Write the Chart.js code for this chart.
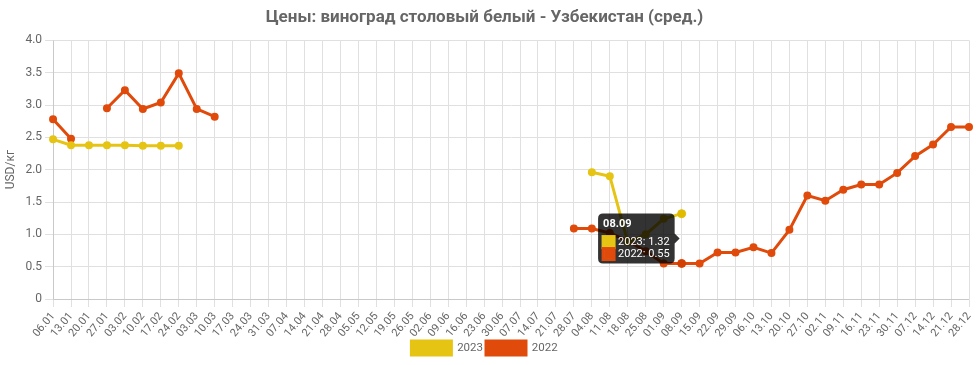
<!DOCTYPE html>
<html>
<head>
<meta charset="utf-8">
<script src="https://cdn.jsdelivr.net/npm/chart.js@4"></script>
<style>
  html, body { margin: 0; padding: 0; background: #fff; }
  #wrap { width: 979px; height: 365px; }
</style>
</head>
<body>
<div id="wrap"><canvas id="myChart"></canvas></div>
<script>
const weeks = ["06.01","13.01","20.01","27.01","03.02","10.02","17.02","24.02","03.03","10.03",
  "17.03","24.03","31.03","07.04","14.04","21.04","28.04","05.05","12.05","19.05",
  "26.05","02.06","09.06","16.06","23.06","30.06","07.07","14.07","21.07","28.07",
  "04.08","11.08","18.08","25.08","01.09","08.09","15.09","22.09","29.09","06.10",
  "13.10","20.10","27.10","02.11","09.11","16.11","23.11","30.11","07.12","14.12",
  "21.12","28.12"];

const prices2023 = [2.47,2.38,2.38,2.38,2.38,2.37,2.37,2.37,null,null,
  null,null,null,null,null,null,null,null,null,null,
  null,null,null,null,null,null,null,null,null,null,
  1.96,1.90,0.88,1.00,1.24,1.32,null,null,null,null,
  null,null,null,null,null,null,null,null,null,null,
  null,null];

const prices2022 = [2.78,2.48,null,2.95,3.23,2.94,3.04,3.49,2.94,2.82,
  null,null,null,null,null,null,null,null,null,null,
  null,null,null,null,null,null,null,null,null,1.09,
  1.09,1.02,0.90,0.74,0.55,0.55,0.55,0.72,0.72,0.80,
  0.71,1.07,1.60,1.52,1.69,1.77,1.77,1.95,2.21,2.39,
  2.66,2.66];

const yellow = "#E6C414";
const orange = "#E04A0A";

Chart.defaults.font.family = "Roboto, 'Liberation Sans', sans-serif";
Chart.defaults.color = "#666";

const ctx = document.getElementById("myChart").getContext("2d");
const myChart = new Chart(ctx, {
  type: "line",
  data: {
    labels: weeks,
    datasets: [{
      label: "2023",
      data: prices2023,
      borderColor: yellow,
      backgroundColor: yellow,
      borderWidth: 3,
      pointRadius: 2.5,
      pointHoverRadius: 4,
      fill: false,
      spanGaps: false
    }, {
      label: "2022",
      data: prices2022,
      borderColor: orange,
      backgroundColor: orange,
      borderWidth: 3,
      pointRadius: 2.5,
      pointHoverRadius: 4,
      fill: false,
      spanGaps: false
    }]
  },
  options: {
    responsive: true,
    maintainAspectRatio: false,
    animation: false,
    interaction: { mode: "index", intersect: false },
    layout: { padding: { left: 0, right: 10 } },
    plugins: {
      title: {
        display: true,
        text: "Цены: виноград столовый белый - Узбекистан (сред.)",
        font: { size: 17, weight: "bold" },
        color: "#666",
        padding: { top: 8, bottom: 12 }
      },
      legend: {
        position: "bottom",
        labels: { boxWidth: 40, boxHeight: 14, padding: 3, font: { size: 11.5 } }
      },
      tooltip: {
        enabled: true,
        padding: { top: 5, bottom: 4, left: 5, right: 5 },
        titleFont: { size: 11, weight: "bold", lineHeight: 1 },
        bodyFont: { size: 11, lineHeight: 1 },
        titleMarginBottom: 7,
        bodySpacing: 1,
        boxWidth: 11,
        boxHeight: 11,
        boxPadding: 2,
        caretSize: 5,
        cornerRadius: 5
      }
    },
    scales: {
      x: {
        grid: { color: "#e0e0e0" },
        ticks: { minRotation: 50, maxRotation: 50, autoSkip: false, font: { size: 11 } },
        afterFit: (scale) => {
          // labels may run under the legend, as in the original
          scale.height = 39;
          scale.paddingRight = 0;
          scale._computeLabelArea = () => undefined;
        }
      },
      y: {
        min: 0,
        max: 4,
        grid: { color: "#e0e0e0" },
        ticks: {
          stepSize: 0.5,
          font: { size: 12 },
          callback: (v) => v === 0 ? "0" : v.toFixed(1)
        },
        title: { display: true, text: "USD/кг", font: { size: 12 } }
      }
    }
  }
});

const active = [{ datasetIndex: 0, index: 35 }, { datasetIndex: 1, index: 35 }];
myChart.setActiveElements(active);
myChart.tooltip.setActiveElements(active, { x: 0, y: 0 });
myChart.update();
</script>
</body>
</html>
